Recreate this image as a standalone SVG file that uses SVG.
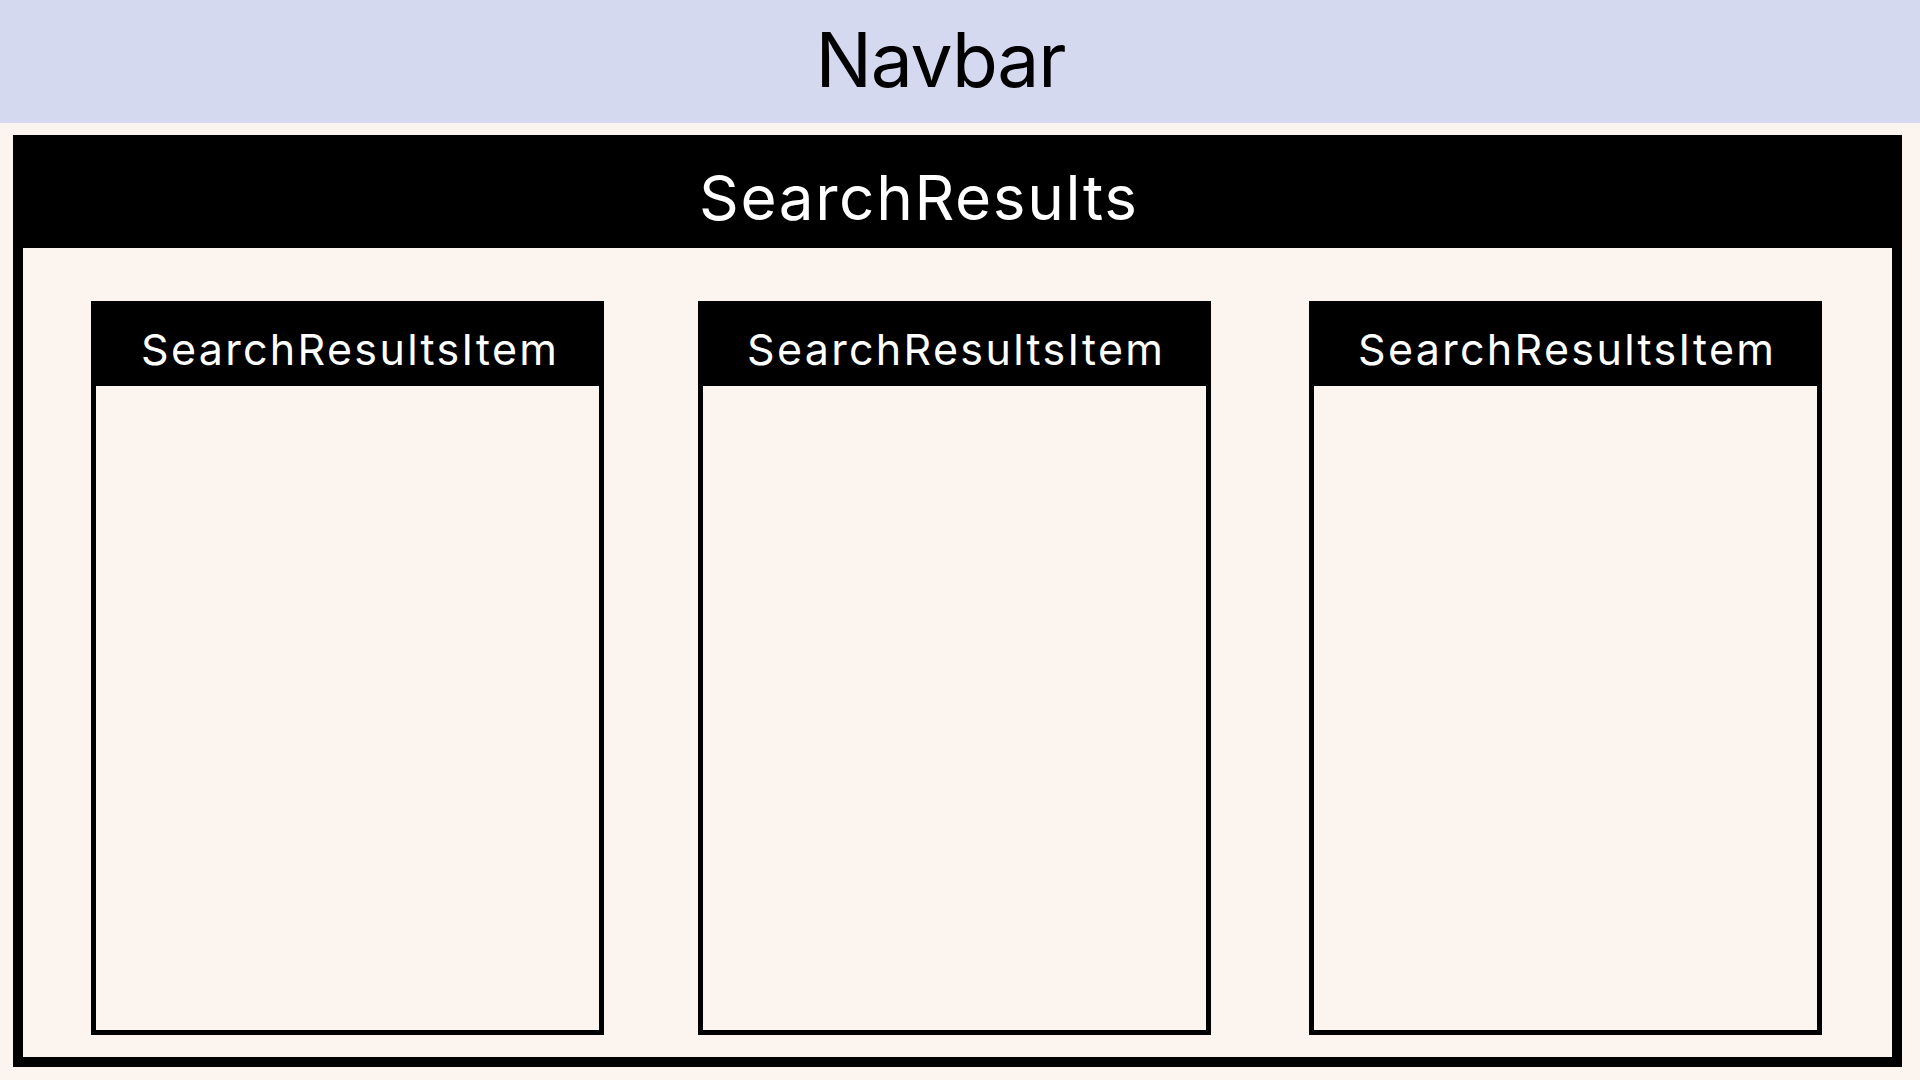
<svg xmlns="http://www.w3.org/2000/svg" width="1920" height="1080" viewBox="0 0 1920 1080">
<style>
.bg{fill:#fcf4ee}
.frame{fill:#fcf4ee;stroke:#000}
.hdr{fill:#000}
.t{font-family:Inter,"Liberation Sans",sans-serif;text-anchor:middle}
.w{fill:#fff}
</style>
<rect class="bg" x="0" y="0" width="1920" height="1080"/>
<g id="navbar">
<rect x="0" y="0" width="1920" height="123" fill="#d4d9ef"/>
<text class="t" x="941" y="87" font-size="75" fill="#000" textLength="251" lengthAdjust="spacing">Navbar</text>
</g>
<g id="search-results">
<rect class="frame" x="18" y="140" width="1879" height="922" stroke-width="10"/>
<rect class="hdr" x="13" y="135" width="1889" height="113"/>
<text class="t w" x="918" y="220" font-size="62" textLength="438" lengthAdjust="spacing">SearchResults</text>
</g>
<g id="item-1">
<rect class="frame" x="93.5" y="303.5" width="508" height="729" stroke-width="5"/>
<rect class="hdr" x="91" y="301" width="513" height="85"/>
<text class="t w" x="349" y="365" font-size="43" textLength="416" lengthAdjust="spacing">SearchResultsItem</text>
</g>
<g id="item-2">
<rect class="frame" x="700.5" y="303.5" width="508" height="729" stroke-width="5"/>
<rect class="hdr" x="698" y="301" width="513" height="85"/>
<text class="t w" x="955" y="365" font-size="43" textLength="416" lengthAdjust="spacing">SearchResultsItem</text>
</g>
<g id="item-3">
<rect class="frame" x="1311.5" y="303.5" width="508" height="729" stroke-width="5"/>
<rect class="hdr" x="1309" y="301" width="513" height="85"/>
<text class="t w" x="1566" y="365" font-size="43" textLength="416" lengthAdjust="spacing">SearchResultsItem</text>
</g>
<g id="connectors"/>
</svg>
